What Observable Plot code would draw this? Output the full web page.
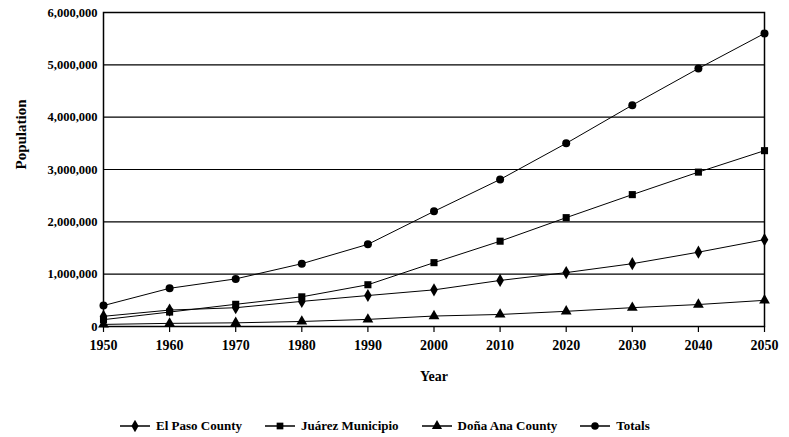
<!DOCTYPE html>
<html>
<head>
<meta charset="utf-8">
<script src="https://cdn.jsdelivr.net/npm/d3@7"></script>
<script src="https://cdn.jsdelivr.net/npm/@observablehq/plot@0.6"></script>
<style>
  body { margin: 0; background: #fff; font-family: "Liberation Serif", "Times New Roman", serif; }
  #legend { display: flex; justify-content: flex-start; align-items: center; padding-left: 120px; margin-top: 18px; height: 16px; font-weight: bold; font-size: 13px; color: #000; }
  #legend .item { display: flex; align-items: center; margin-right: 23px; }
  #legend svg { margin-right: 6px; }
</style>
</head>
<body>
<div id="chart"></div>
<div id="legend"></div>
<script>
const years = [1950, 1960, 1970, 1980, 1990, 2000, 2010, 2020, 2030, 2040, 2050];
const seriesNames = ["El Paso County", "Juárez Municipio", "Doña Ana County", "Totals"];
const elPaso  = [195000, 314000, 359000, 480000, 592000, 700000, 880000, 1030000, 1200000, 1420000, 1660000];
const juarez  = [131000, 276000, 424000, 567000, 798000, 1220000, 1630000, 2080000, 2520000, 2950000, 3360000];
const donaAna = [40000, 60000, 70000, 96000, 136000, 200000, 230000, 290000, 360000, 420000, 500000];
const totals  = [400000, 730000, 910000, 1200000, 1570000, 2200000, 2810000, 3500000, 4230000, 4930000, 5600000];
const yTicks = [0, 1000000, 2000000, 3000000, 4000000, 5000000, 6000000];
const symbols = ["diamond", "square", "triangle", "circle"];

const seriesValues = [elPaso, juarez, donaAna, totals];
const rows = [];
seriesNames.forEach((s, i) => years.forEach((y, j) => rows.push({series: s, year: y, value: seriesValues[i][j]})));

const plot = Plot.plot({
  width: 789,
  height: 400,
  marginLeft: 103,
  marginRight: 25,
  marginTop: 12,
  marginBottom: 74,
  style: {fontFamily: "'Liberation Serif', 'Times New Roman', serif", fontWeight: "bold", color: "#000", background: "#fff"},
  x: {domain: [1950, 2050], ticks: years, tickFormat: d => String(d), label: null},
  y: {domain: [0, 6000000], ticks: yTicks, tickFormat: d3.format(","), label: null},
  symbol: {domain: seriesNames, range: symbols},
  marks: [
    Plot.ruleY(yTicks.slice(1), {stroke: "#000", strokeWidth: 1.2}),
    Plot.frame({stroke: "#000", strokeWidth: 1.5}),
    Plot.axisX({ticks: years, tickFormat: d => String(d), tickSize: 6, tickPadding: 8, fontSize: 14, stroke: "#000", strokeWidth: 1.2, label: null}),
    Plot.axisY({ticks: yTicks, tickFormat: d3.format(","), tickSize: 0, tickPadding: 6, fontSize: 12.5, label: null}),
    Plot.line(rows, {x: "year", y: "value", z: "series", stroke: "#000", strokeWidth: 1}),
    Plot.dot(rows, {x: "year", y: "value", symbol: "series", fill: "#000", stroke: "none", r: 4}),
    Plot.text(["Year"], {frameAnchor: "bottom", dy: 54, fontSize: 14, fontWeight: "bold"}),
    Plot.text(["Population"], {frameAnchor: "left", dx: -82, rotate: -90, fontSize: 15, fontWeight: "bold"})
  ]
});
document.getElementById("chart").appendChild(plot);

// Legend
const legend = d3.select("#legend");
seriesNames.forEach((name, i) => {
  const item = legend.append("div").attr("class", "item");
  const svg = item.append("svg").attr("width", 30).attr("height", 12);
  svg.append("line").attr("x1", 0).attr("x2", 30).attr("y1", 6).attr("y2", 6).attr("stroke", "#000").attr("stroke-width", 1.5);
  svg.append("path").attr("d", d3.symbol(d3["symbol" + symbols[i][0].toUpperCase() + symbols[i].slice(1)], 45)()).attr("transform", "translate(15,6)").attr("fill", "#000");
  item.append("span").text(name);
});
</script>
</body>
</html>
